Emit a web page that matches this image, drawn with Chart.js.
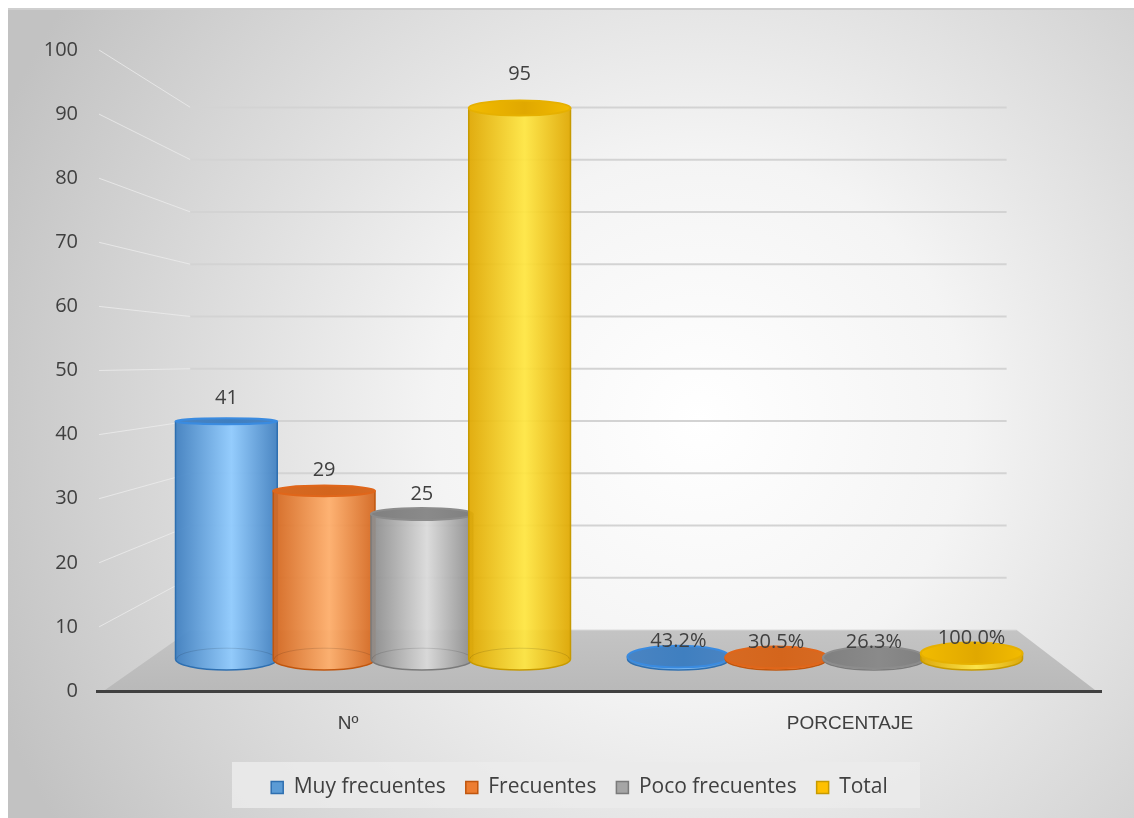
<!DOCTYPE html>
<html>
<head>
<meta charset="utf-8">
<script src="https://cdn.jsdelivr.net/npm/chart.js@4.4.1/dist/chart.umd.min.js"></script>
<style>
  html, body { margin: 0; padding: 0; background: #ffffff; }
  canvas { display: block; }
</style>
</head>
<body>
<canvas id="chart" width="1134" height="818"></canvas>
<script>
// --- DATA ---
const categories = ['Nº', 'PORCENTAJE'];
const seriesNames = ['Muy frecuentes', 'Frecuentes', 'Poco frecuentes', 'Total'];
const muyFrecuentes = [41, 0.432];
const frecuentes = [29, 0.305];
const pocoFrecuentes = [25, 0.263];
const total = [95, 1.0];
const yTicks = [0, 10, 20, 30, 40, 50, 60, 70, 80, 90, 100];

const seriesValues = [muyFrecuentes, frecuentes, pocoFrecuentes, total];

// --- STYLES (one per series) ---
const styles = [
  { fill: '#5b9bd5', dark: '#3f7fc0', light: '#8fcbff', edge: '#2e6fb0', top: '#4a84c2', rim: '#3a8be0' },
  { fill: '#ed7d31', dark: '#d4651c', light: '#ffae6a', edge: '#c0560e', top: '#d76a22', rim: '#e0661a' },
  { fill: '#a5a5a5', dark: '#8a8a8a', light: '#dadada', edge: '#7a7a7a', top: '#808080', rim: '#8c8c8c' },
  { fill: '#ffc000', dark: '#e0a800', light: '#ffe640', edge: '#c79a00', top: '#f2bb00', rim: '#e6b000' }
];
const TEXT = '#404040';
const FONT = '"Open Sans", sans-serif';

// --- CYLINDER HELPERS ---
function ellipseRy(y, eyeY) {
  return Math.max(2.5, 0.0336 * Math.abs(y - eyeY));
}

function drawCylinder(ctx, cx, w, top, base, st, eyeY) {
  const rx = w / 2 + 2;
  const L = cx - rx, R = cx + rx;
  const ryB = ellipseRy(base, eyeY);
  const ryT = ellipseRy(top, eyeY);

  const g = ctx.createLinearGradient(L, 0, R, 0);
  g.addColorStop(0, st.dark);
  g.addColorStop(0.55, st.light);
  g.addColorStop(1, st.dark);

  ctx.save();
  ctx.globalAlpha = 0.93;
  ctx.beginPath();
  ctx.moveTo(L, top);
  ctx.lineTo(L, base);
  ctx.ellipse(cx, base, rx, ryB, 0, Math.PI, 0, true);
  ctx.lineTo(R, top);
  ctx.closePath();
  ctx.fillStyle = g;
  ctx.fill();
  ctx.globalAlpha = 1;

  // back half of the bottom rim, seen through the glass
  if (top < base - 8) {
    ctx.beginPath();
    ctx.ellipse(cx, base, rx - 1, ryB, 0, Math.PI, 2 * Math.PI, false);
    ctx.strokeStyle = 'rgba(0,0,0,0.12)';
    ctx.lineWidth = 1;
    ctx.stroke();
  }

  // outline of sides and bottom
  ctx.beginPath();
  ctx.moveTo(L, top);
  ctx.lineTo(L, base);
  ctx.ellipse(cx, base, rx, ryB, 0, Math.PI, 0, true);
  ctx.lineTo(R, top);
  ctx.strokeStyle = st.edge;
  ctx.lineWidth = 1.5;
  ctx.stroke();

  // top face
  const tg = ctx.createLinearGradient(L, 0, R, 0);
  tg.addColorStop(0, st.top);
  tg.addColorStop(0.55, st.dark);
  tg.addColorStop(1, st.top);
  ctx.beginPath();
  ctx.ellipse(cx, top, rx, ryT, 0, 0, 2 * Math.PI);
  ctx.fillStyle = tg;
  ctx.fill();
  ctx.strokeStyle = st.rim;
  ctx.lineWidth = 2;
  ctx.stroke();
  ctx.restore();
}

// --- 3D SCENE PLUGIN ---
const scene3d = {
  id: 'scene3d',
  afterLayout(chart) {
    // the legend sits a little right of centre in the original
    if (chart.legend) chart.legend.left = 58;
  },
  beforeDraw(chart) {
    const { ctx, chartArea: a, scales } = chart;
    const W = chart.width, H = chart.height;
    ctx.save();
    // chart background
    const bg = ctx.createRadialGradient(700, 420, 0, 700, 420, 760);
    bg.addColorStop(0, '#ffffff');
    bg.addColorStop(0.35, '#f4f4f4');
    bg.addColorStop(1, '#c2c2c2');
    ctx.fillStyle = bg;
    ctx.fillRect(8, 9, W - 8, H - 9);
    ctx.fillStyle = '#cfcfcf';
    ctx.fillRect(8, 8, W - 8, 2);

    // back wall
    const yw = scales.yw, yf = scales.y;
    const backL = a.left + 0.093 * a.width;
    const backR = a.left + 0.906 * a.width;
    yTicks.forEach(v => {
      const by = yw.getPixelForValue(v);
      const fy = yf.getPixelForValue(v);
      if (v > 0) {
        ctx.beginPath();
        ctx.moveTo(a.left + 2, fy);
        ctx.lineTo(backL, by);
        ctx.strokeStyle = 'rgba(236,236,236,0.8)';
        ctx.lineWidth = 1;
        ctx.stroke();
        ctx.beginPath();
        ctx.moveTo(backL, by);
        ctx.lineTo(backR, by);
        ctx.strokeStyle = '#d3d3d3';
        ctx.lineWidth = 2;
        ctx.stroke();
      }
    });

    // floor
    const b0 = yw.getPixelForValue(0);
    const fg = ctx.createLinearGradient(0, b0, 0, a.bottom);
    fg.addColorStop(0, '#c4c4c4');
    fg.addColorStop(1, '#b9b9b9');
    ctx.beginPath();
    ctx.moveTo(a.left + 8, a.bottom - 1);
    ctx.lineTo(backL, b0);
    ctx.lineTo(backR + 10, b0);
    ctx.lineTo(a.right - 6, a.bottom - 1);
    ctx.closePath();
    ctx.fillStyle = fg;
    ctx.fill();
    ctx.beginPath();
    ctx.moveTo(backL, b0);
    ctx.lineTo(backR + 10, b0);
    ctx.strokeStyle = '#d6d6d6';
    ctx.lineWidth = 1;
    ctx.stroke();

    // legend panel
    const lg = chart.legend;
    if (lg) {
      ctx.fillStyle = 'rgba(235,235,235,0.85)';
      ctx.fillRect(232, lg.top + 5, 688, lg.bottom - lg.top - 5);
    }
    ctx.restore();
  },
  beforeDatasetsDraw(chart) {
    const { ctx, scales } = chart;
    const yb = scales.yb;
    const eyeY = yb.getPixelForValue(56);
    const labels = [];
    chart.data.datasets.forEach((ds, i) => {
      const meta = chart.getDatasetMeta(i);
      meta.data.forEach((bar, j) => {
        const p = bar.getProps(['x', 'y', 'base', 'width'], true);
        drawCylinder(ctx, p.x, p.width, p.y, p.base, styles[i], eyeY);
        const v = seriesValues[i][j];
        const txt = j === 0 ? String(v) : (v * 100).toFixed(1) + '%';
        const off = 36 - 0.034 * (p.y - chart.chartArea.top);
        labels.push([txt, p.x, p.y - off]);
      });
    });
    ctx.save();
    ctx.font = '20px ' + FONT;
    ctx.fillStyle = TEXT;
    ctx.textAlign = 'center';
    ctx.textBaseline = 'middle';
    labels.forEach(([t, x, y]) => ctx.fillText(t, x, y));
    ctx.restore();
    return false;
  }
};

// --- CHART ---
const ctx = document.getElementById('chart').getContext('2d');
const chart = new Chart(ctx, {
  type: 'bar',
  data: {
    labels: categories,
    datasets: seriesNames.map((name, i) => ({
      label: name,
      data: seriesValues[i].map((v, j) => ({ x: j, y: v })),
      xAxisID: 'xb',
      yAxisID: 'yb',
      backgroundColor: styles[i].fill,
      borderColor: styles[i].edge,
      borderWidth: 1.5,
      categoryPercentage: 0.865,
      barPercentage: 1
    }))
  },
  options: {
    responsive: false,
    animation: false,
    layout: { padding: { left: 0, right: 33, top: 50, bottom: 10 } },
    scales: {
      x: {
        type: 'category',
        position: 'bottom',
        offset: true,
        grid: { display: false, drawTicks: false },
        border: { display: true, color: '#404040', width: 3 },
        ticks: { color: TEXT, font: { size: 19, family: '"Liberation Sans", Arial, sans-serif' }, padding: 21 },
        afterFit: s => { s.height = 66; }
      },
      xb: {
        type: 'linear',
        axis: 'x',
        display: false,
        offset: false,
        bounds: 'data',
        min: -0.6106,
        max: 1.6106,
        afterBuildTicks: s => { s.ticks = [{ value: 0 }, { value: 1 }]; }
      },
      y: {
        type: 'linear',
        position: 'left',
        min: 0,
        max: 100,
        afterBuildTicks: s => { s.ticks = yTicks.map(v => ({ value: v })); },
        grid: { display: false, drawTicks: false },
        border: { display: false },
        ticks: { color: TEXT, font: { size: 20, family: FONT }, padding: 19 },
        afterFit: s => { s.width = 97; }
      },
      yb: { type: 'linear', axis: 'y', display: false, min: -5.5, max: 105 },
      yw: { type: 'linear', axis: 'y', display: false, min: -11.65, max: 110.98 }
    },
    plugins: {
      legend: {
        position: 'bottom',
        labels: {
          color: TEXT,
          font: { size: 21, family: FONT },
          boxWidth: 12,
          boxHeight: 12,
          padding: 20
        }
      },
      tooltip: { enabled: false }
    }
  },
  plugins: [scene3d]
});
</script>
</body>
</html>
